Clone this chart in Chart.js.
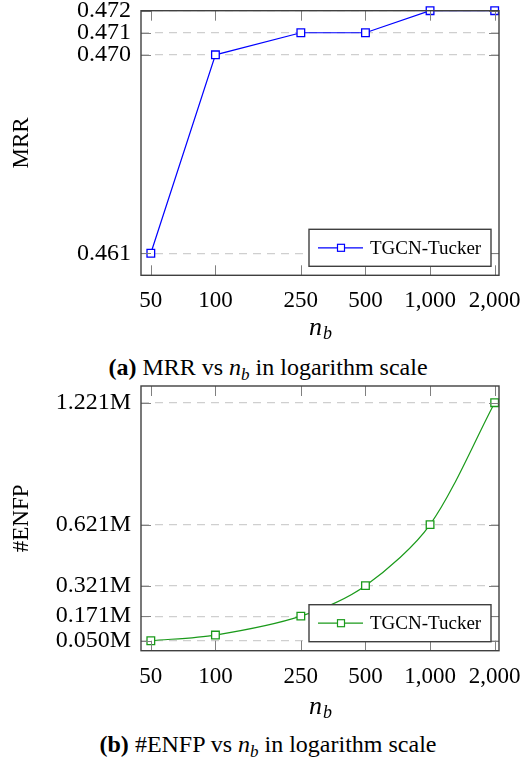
<!DOCTYPE html>
<html>
<head>
<meta charset="utf-8">
<script src="https://cdn.jsdelivr.net/npm/chart.js@4.4.1/dist/chart.umd.min.js"></script>
<style>
  body { margin: 0; background: #fff; }
  #wrap { position: relative; width: 526px; height: 761px; font-family: "Liberation Serif", serif; }
  canvas { position: absolute; left: 0; }
  .cap { position: absolute; left: 0; width: 536px; text-align: center; font-size: 24px; line-height: 26px; color: #000; }
  .cap sub { font-size: 17px; vertical-align: -5px; line-height: 0; }
</style>
</head>
<body>
<div id="wrap">
  <canvas id="mrrChart" width="526" height="345" style="top:0"></canvas>
  <div class="cap" style="top:354px"><b>(a)</b> MRR vs <i>n</i><sub><i>b</i></sub> in logarithm scale</div>
  <canvas id="enfpChart" width="526" height="345" style="top:376px"></canvas>
  <div class="cap" style="top:731px"><b>(b)</b> #ENFP vs <i>n</i><sub><i>b</i></sub> in logarithm scale</div>
</div>
<script>
// n_b values (x axis, log scale)
const nbValues = [50, 100, 250, 500, 1000, 2000];
// MRR per n_b
const mrrValues = [0.461, 0.470, 0.471, 0.471, 0.472, 0.472];
// #ENFP per n_b, in millions
const enfpValues = [0.050, 0.078, 0.171, 0.321, 0.621, 1.221];

const mrrTicks = [0.461, 0.470, 0.471, 0.472];
const enfpTicks = [0.050, 0.171, 0.321, 0.621, 1.221];
const seriesName = "TGCN-Tucker";

const SERIF = "Liberation Serif";

// frame, inner tick marks, legend box and the n_b axis title
const framePlugin = {
  id: "frame",
  afterDraw(chart) {
    const { ctx, chartArea: a, scales } = chart;
    ctx.save();
    // inner tick marks
    ctx.strokeStyle = "#808080";
    ctx.lineWidth = 1;
    ctx.beginPath();
    scales.x.ticks.forEach((t) => {
      const px = Math.round(scales.x.getPixelForValue(t.value)) + 0.5;
      ctx.moveTo(px, a.top); ctx.lineTo(px, a.top + 10);
      ctx.moveTo(px, a.bottom); ctx.lineTo(px, a.bottom - 10);
    });
    scales.y.ticks.forEach((t) => {
      const py = Math.round(scales.y.getPixelForValue(t.value)) + 0.5;
      ctx.moveTo(a.left, py); ctx.lineTo(a.left + 10, py);
      ctx.moveTo(a.right, py); ctx.lineTo(a.right - 10, py);
    });
    ctx.stroke();
    // box
    ctx.strokeStyle = "#404040";
    ctx.lineWidth = 1.4;
    ctx.strokeRect(a.left, a.top, a.right - a.left, a.bottom - a.top);

    // legend
    const ds = chart.data.datasets[0];
    const bx = a.right - 190, by = a.bottom - 46, bw = 182, bh = 37;
    ctx.fillStyle = "#fff";
    ctx.fillRect(bx, by, bw, bh);
    ctx.strokeStyle = "#404040";
    ctx.lineWidth = 1.4;
    ctx.strokeRect(bx, by, bw, bh);
    const cy = by + bh / 2;
    ctx.strokeStyle = ds.borderColor;
    ctx.lineWidth = 1.2;
    ctx.beginPath();
    ctx.moveTo(bx + 9, cy); ctx.lineTo(bx + 54, cy);
    ctx.stroke();
    ctx.fillStyle = "#fff";
    ctx.fillRect(bx + 28.5, cy - 3.5, 7, 7);
    ctx.strokeRect(bx + 28.5, cy - 3.5, 7, 7);
    ctx.fillStyle = "#000";
    ctx.font = "19px '" + SERIF + "'";
    ctx.textBaseline = "middle";
    ctx.textAlign = "left";
    ctx.fillText(ds.label, bx + 61, cy + 1);

    // x axis title: n_b
    const mx = (a.left + a.right) / 2;
    const ty = chart.options.plugins.frame.titleY;
    ctx.font = "italic 26px '" + SERIF + "'";
    ctx.textBaseline = "alphabetic";
    const nW = ctx.measureText("n").width;
    ctx.font = "italic 18px '" + SERIF + "'";
    const bW = ctx.measureText("b").width;
    const sx = mx - (nW + bW) / 2;
    ctx.font = "italic 26px '" + SERIF + "'";
    ctx.fillText("n", sx, ty);
    ctx.font = "italic 18px '" + SERIF + "'";
    ctx.fillText("b", sx + nW + 1, ty + 4);
    ctx.restore();
  },
};

function makeChart(id, values, yTicks, yTitle, color, fmt, yMin, yMax, topPad, xHeight, titleY, tension) {
  const points = nbValues.map((n, i) => ({ x: n, y: values[i] }));
  return new Chart(document.getElementById(id), {
    type: "line",
    data: {
      datasets: [
        {
          label: seriesName,
          data: points,
          borderColor: color,
          borderWidth: 1.2,
          pointStyle: "rect",
          pointRadius: 5.4,
          pointBorderWidth: 1.3,
          pointBackgroundColor: "#fff",
          pointBorderColor: color,
          tension: tension,
          clip: false,
        },
      ],
    },
    options: {
      responsive: false,
      animation: false,
      devicePixelRatio: 1,
      layout: { padding: { left: 0, right: 27, top: topPad, bottom: 0 } },
      plugins: {
        legend: { display: false },
        tooltip: { enabled: false },
        frame: { titleY: titleY },
      },
      scales: {
        x: {
          type: "logarithmic",
          min: 45,
          max: 2095,
          afterBuildTicks: (s) => { s.ticks = nbValues.map((v) => ({ value: v })); },
          afterFit: (s) => { s.height = xHeight; s.paddingLeft = 0; s.paddingRight = 0; },
          ticks: {
            autoSkip: false,
            maxRotation: 0,
            padding: 4,
            color: "#000",
            font: { family: SERIF, size: 23 },
            callback: (v) => Number(v).toLocaleString("en-US"),
          },
          grid: { display: false },
          border: { display: false },
        },
        y: {
          min: yMin,
          max: yMax,
          afterBuildTicks: (s) => { s.ticks = yTicks.map((v) => ({ value: v })); },
          afterFit: (s) => { s.width = 141; s.paddingTop = 0; s.paddingBottom = 0; },
          ticks: {
            autoSkip: false,
            padding: 10,
            color: "#000",
            font: { family: SERIF, size: 24, lineHeight: 1 },
            callback: fmt,
          },
          grid: { color: "#cfcfcf", lineWidth: 1.2, drawTicks: false },
          border: { display: false, dash: [8, 6] },
          title: {
            display: true,
            text: yTitle,
            color: "#000",
            font: { family: SERIF, size: 23 },
            padding: { top: 8, bottom: 0 },
          },
        },
      },
    },
    plugins: [framePlugin],
  });
}

makeChart("mrrChart", mrrValues, mrrTicks, "MRR", "#0000ff",
  (v) => Number(v).toFixed(3), 0.46, 0.472, 10.7, 69.7, 335, 0);
makeChart("enfpChart", enfpValues, enfpTicks, "#ENFP", "#1a9a1a",
  (v) => Number(v).toFixed(3) + "M", 0.001, 1.303, 10, 70.3, 338, 0.3);
</script>
</body>
</html>
